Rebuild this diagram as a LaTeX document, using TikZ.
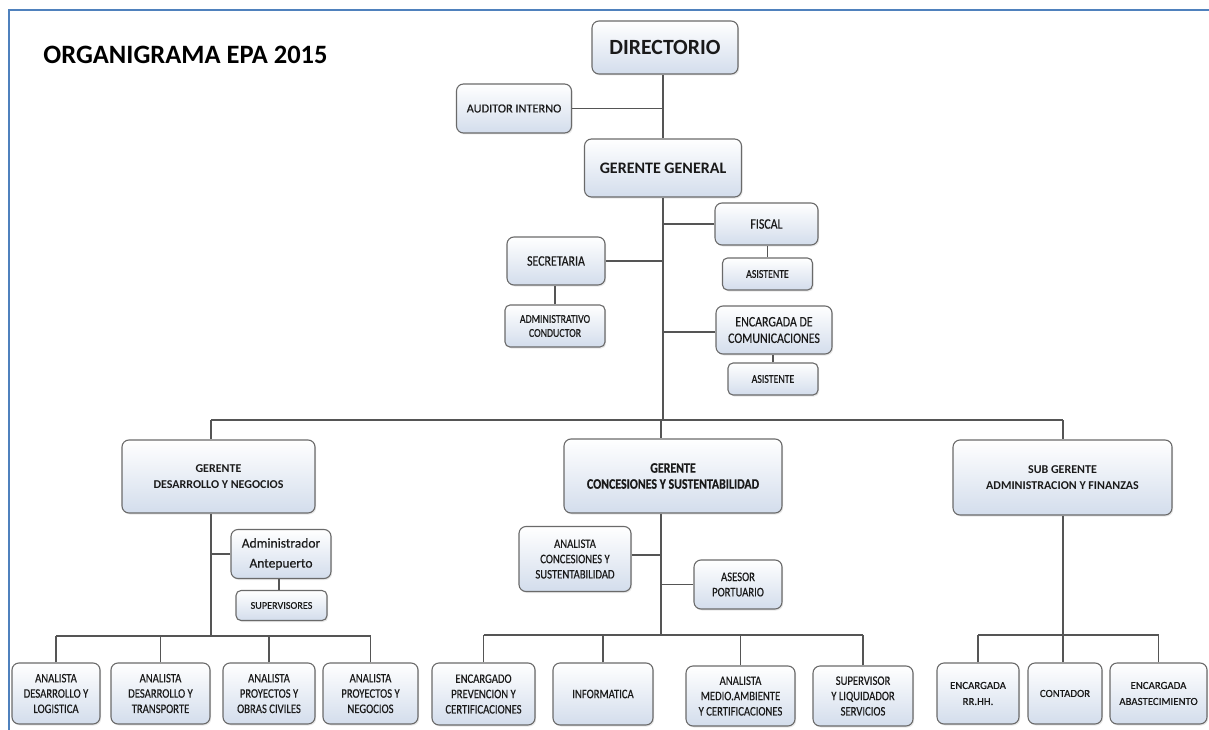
\documentclass[tikz,border=0pt]{standalone}
\usepackage{fontspec}
\setmainfont{Carlito}[FakeBold=0]
\newfontfamily\cnd[FakeStretch=0.82,FakeBold=0.35]{Carlito}
\newfontfamily\rgd[FakeBold=0.35]{Carlito}
\usetikzlibrary{shadows}
\definecolor{boxblue}{HTML}{D3DDEC}
\definecolor{boxline}{HTML}{6A6A6A}
\definecolor{conn}{HTML}{555555}
\definecolor{framec}{HTML}{4F81BD}
\definecolor{txt}{HTML}{1A1A1A}
\newcommand\fz[2]{\fontsize{#1}{#2}\selectfont}
\tikzset{
  org/.style={draw=boxline, line width=1.1pt, rounded corners=7pt,
    top color=white, bottom color=boxblue, inner sep=1pt, align=center, text=txt,
    drop shadow={shadow xshift=1.2pt, shadow yshift=-1.5pt, opacity=0.18}},
  smallbox/.style={org, rounded corners=5pt},
  conline/.style={draw=conn, line width=1.3pt},
  framel/.style={draw=framec, line width=2pt},
  fbig/.style={font=\fz{21.7}{24}\bfseries},
  fgg/.style={font=\fz{16}{18}\bfseries},
  fmgr/.style={font=\fz{12}{16}\bfseries},
  fmgrc/.style={font=\cnd\fz{14.5}{16}\bfseries},
  fmid/.style={font=\rgd\fz{12.3}{16.5}},
  fmidc/.style={font=\cnd\fz{14.5}{16.5}},
  fsmallc/.style={font=\cnd\fz{12}{14}},
  fbot/.style={font=\rgd\fz{10.8}{16}},
  fbotc/.style={font=\cnd\fz{13}{15.3}},
  fadm/.style={font=\rgd\fz{13.5}{20}},
}
\begin{document}
\begin{tikzpicture}[x=1pt,y=-1pt]
\useasboundingbox (0,0) rectangle (1209,730);
% frame
\draw[framel] (1209,10) -- (9,10) -- (9,730);
% title
\node[font=\fz{26.5}{30}\bfseries, text=black, anchor=base, inner sep=0] (title) at (185.5,64) {ORGANIGRAMA EPA 2015};

% top nodes
\node[org, fbig, minimum width=146pt, minimum height=53pt] (dir) at (665,47.5) {DIRECTORIO};
\node[org, fmid, minimum width=115pt, minimum height=49pt] (aud) at (514,108.5) {AUDITOR INTERNO};
\node[org, fgg, minimum width=157pt, minimum height=58pt] (gg) at (663,168) {GERENTE GENERAL};
\node[org, fmidc, minimum width=103pt, minimum height=42pt] (fis) at (766.5,224) {FISCAL};
\node[smallbox, fsmallc, minimum width=90pt, minimum height=32pt] (asi1) at (767.5,274) {ASISTENTE};
\node[org, fmidc, minimum width=98pt, minimum height=48pt] (sec) at (556,261) {SECRETARIA};
\node[smallbox, fsmallc, minimum width=100pt, minimum height=42pt] (adm) at (555,326) {ADMINISTRATIVO\\CONDUCTOR};
\node[org, fmidc, minimum width=116pt, minimum height=48pt] (enc) at (774,330) {ENCARGADA DE\\COMUNICACIONES};
\node[smallbox, fsmallc, minimum width=90pt, minimum height=32pt] (asi2) at (773,379) {ASISTENTE};

% managers
\node[org, fmgr, minimum width=193pt, minimum height=73pt] (gdn) at (218.5,476.5) {GERENTE\\DESARROLLO Y NEGOCIOS};
\node[org, fmgrc, minimum width=218pt, minimum height=74pt] (gcs) at (673,476) {GERENTE\\CONCESIONES Y SUSTENTABILIDAD};
\node[org, fmgr, minimum width=219pt, minimum height=75pt] (sga) at (1062.5,477.5) {SUB GERENTE\\ADMINISTRACION Y FINANZAS};

% left branch
\node[org, fadm, minimum width=100pt, minimum height=49pt] (ant) at (281,554) {Administrador\\Antepuerto};
\node[smallbox, font=\rgd\fz{10.2}{14}, minimum width=91pt, minimum height=30pt] (sup) at (281.5,605.5) {SUPERVISORES};
\node[org, fbotc, minimum width=88pt, minimum height=61pt] (b1) at (56,693.5) {ANALISTA\\DESARROLLO Y\\LOGISTICA};
\node[org, fbotc, minimum width=99pt, minimum height=61pt] (b2) at (160.5,693.5) {ANALISTA\\DESARROLLO Y\\TRANSPORTE};
\node[org, fbotc, minimum width=92pt, minimum height=61pt] (b3) at (269,693.5) {ANALISTA\\PROYECTOS Y\\OBRAS CIVILES};
\node[org, fbotc, minimum width=95pt, minimum height=61pt] (b4) at (370.5,693.5) {ANALISTA\\PROYECTOS Y\\NEGOCIOS};

% middle branch
\node[org, fbotc, minimum width=112pt, minimum height=65pt] (acs) at (575,559) {ANALISTA\\CONCESIONES Y\\SUSTENTABILIDAD};
\node[org, fbotc, minimum width=88pt, minimum height=49pt] (ase) at (738,584.5) {ASESOR\\PORTUARIO};
\node[org, fbotc, minimum width=103pt, minimum height=62pt] (m1) at (483.5,694) {ENCARGADO\\PREVENCION Y\\CERTIFICACIONES};
\node[org, fbotc, minimum width=100pt, minimum height=62pt] (m2) at (603,694) {INFORMATICA};
\node[org, fbotc, minimum width=109pt, minimum height=60pt] (m3) at (740.5,696) {ANALISTA\\MEDIO.AMBIENTE\\Y CERTIFICACIONES};
\node[org, fbotc, minimum width=100pt, minimum height=60pt] (m4) at (863,696) {SUPERVISOR\\Y LIQUIDADOR\\SERVICIOS};

% right branch
\node[org, fbot, minimum width=82pt, minimum height=61pt] (r1) at (978,693.5) {ENCARGADA\\RR.HH.};
\node[org, fbot, minimum width=74pt, minimum height=61pt] (r2) at (1065,693.5) {CONTADOR};
\node[org, fbot, minimum width=97pt, minimum height=61pt] (r3) at (1158.5,693.5) {ENCARGADA\\ABASTECIMIENTO};

% coordinates
\coordinate (busL) at (211,420);
\coordinate (busM) at (661,420);
\coordinate (busR) at (1063,420);
\coordinate (lbus) at (211,636);
\coordinate (mbus) at (661,635);
\coordinate (rbus) at (1063,635);

\begin{scope}[conline]
\draw (gg.north) -- (gg.north |- dir.south);
\draw (aud.east) -- (aud.east -| gg.north);
\draw (gg.south) -- (gg.south |- busL);
\draw (fis.west) -- (fis.west -| gg.south);
\draw (sec.east) -- (sec.east -| gg.south);
\draw ([yshift=-2pt]enc.west) -- ([yshift=-2pt]enc.west -| gg.south);
\draw (asi1.north) -- (asi1.north |- fis.south);
\draw (adm.north) -- (adm.north |- sec.south);
\draw (asi2.north) -- (asi2.north |- enc.south);
% main bus
\draw (busL) -- (busR);
\draw (busL) -- (busL |- gdn.north);
\draw (busM) -- (busM |- gcs.north);
\draw (busR) -- (sga.north -| busR);
% left
\draw (gdn.south -| busL) -- (lbus);
\draw (ant.west) -- (ant.west -| busL);
\draw ([xshift=-2pt]ant.south) -- ([xshift=-2pt]ant.south |- sup.north);
\draw (b1.north |- lbus) -- (b4.north |- lbus);
\draw (b1.north) -- (b1.north |- lbus);
\draw (b2.north) -- (b2.north |- lbus);
\draw (b3.north) -- (b3.north |- lbus);
\draw (b4.north) -- (b4.north |- lbus);
% middle
\draw (gcs.south -| mbus) -- (mbus);
\draw ([yshift=4pt]acs.east) -- ([yshift=4pt]acs.east -| mbus);
\draw (ase.west) -- (ase.west -| mbus);
\draw (m1.north |- mbus) -- (m4.north |- mbus);
\draw (m1.north) -- (m1.north |- mbus);
\draw (m2.north) -- (m2.north |- mbus);
\draw (m3.north) -- (m3.north |- mbus);
\draw (m4.north) -- (m4.north |- mbus);
% right
\draw (sga.south -| rbus) -- (r2.north -| rbus);
\draw (r1.north |- rbus) -- (r3.north |- rbus);
\draw (r1.north) -- (r1.north |- rbus);
\draw (r3.north) -- (r3.north |- rbus);
\end{scope}
\end{tikzpicture}
\end{document}
